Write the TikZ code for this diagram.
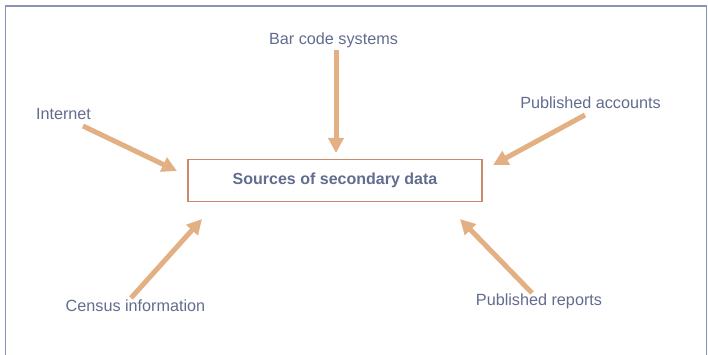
\documentclass[tikz,border=0pt]{standalone}
\usepackage{fontspec}
\setmainfont{Liberation Sans}
\usetikzlibrary{arrows.meta}
\definecolor{framec}{RGB}{138,147,181}
\definecolor{boxc}{RGB}{205,135,105}
\definecolor{arrc}{RGB}{226,176,130}
\definecolor{txtc}{RGB}{98,108,142}
\tikzset{
  lbl/.style={text=txtc, font=\fontsize{16.2}{18}\selectfont, inner sep=0pt, anchor=center},
  mainbox/.style={draw=boxc, line width=1.3pt, minimum width=294pt, minimum height=42pt, text=txtc, font=\fontsize{16}{18}\selectfont\bfseries},
  feed/.style={draw=arrc, line width=5pt, -{Triangle[length=15pt,width=15pt]}}
}
\begin{document}
\begin{tikzpicture}[x=1pt,y=-1pt]
\useasboundingbox (0,0) rectangle (708,355);
\draw[framec, line width=1.8pt] (5.5,360) -- (5.5,6) -- (706.5,6) -- (706.5,360);
\node[mainbox] (box) at (335,180.5) {Sources of secondary data};
\node[lbl] (bar) at (333.5,40) {Bar code systems};
\node[lbl] (inet) at (63.5,114) {Internet};
\node[lbl] (pacc) at (590.5,103) {Published accounts};
\node[lbl] (cens) at (135.5,306) {Census information};
\node[lbl] (prep) at (539,301) {Published reports};
\coordinate (barS) at (336,50);   \coordinate (barE) at (336,153);
\coordinate (inetS) at (83,126);  \coordinate (inetE) at (177,171);
\coordinate (paccS) at (585,115); \coordinate (paccE) at (493,165);
\coordinate (censS) at (131,298); \coordinate (censE) at (202,219);
\coordinate (prepS) at (532,293); \coordinate (prepE) at (460,219);
\draw[feed] (barS) -- (barE);
\draw[feed] (inetS) -- (inetE);
\draw[feed] (paccS) -- (paccE);
\draw[feed] (censS) -- (censE);
\draw[feed] (prepS) -- (prepE);
\end{tikzpicture}
\end{document}
